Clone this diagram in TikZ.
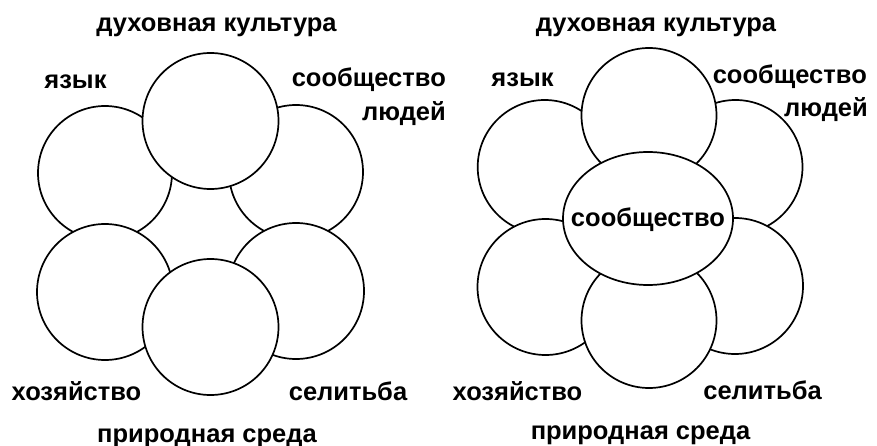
\documentclass[tikz,border=0pt]{standalone}
\usepackage{fontspec}
\setmainfont{Liberation Sans}
\usetikzlibrary{shapes.geometric}
\begin{document}
\begin{tikzpicture}[x=1pt,y=-1pt,
  ring/.style={circle,draw,fill=white,line width=1.7pt,inner sep=0pt,minimum size=#1},
  lbl/.style={anchor=base,inner sep=0pt,font=\fontsize{25.5}{30}\selectfont\bfseries}]
\useasboundingbox (0,0) rectangle (877,446);
% ---------- left diagram ----------
\node[ring=134pt] (lul) at (105,173) {};
\node[ring=134pt] (lur) at (296,172) {};
\node[ring=136pt] (lll) at (105,292) {};
\node[ring=136pt] (llr) at (296,291) {};
\node[ring=136pt] (ltop) at (210.5,121) {};
\node[ring=136pt] (lbot) at (210.5,327) {};
\node[lbl] (lt1) at (216.5,32) {духовная культура};
\node[lbl] (lt2) at (75.5,88.5) {язык};
\node[lbl,anchor=base east] (lt3) at (446,86.5) {сообщество};
\node[lbl,anchor=base east] (lt4) at (446,121) {людей};
\node[lbl] (lt5) at (76.5,400) {хозяйство};
\node[lbl] (lt6) at (348,400) {селитьба};
\node[lbl] (lt7) at (207,442) {природная среда};
% ---------- right diagram ----------
\node[ring=134pt] (rul) at (544.7,167) {};
\node[ring=134pt] (rur) at (735.5,167) {};
\node[ring=136pt] (rll) at (545.5,287) {};
\node[ring=136pt] (rlr) at (735,286) {};
\node[ring=135pt] (rtop) at (649,115.5) {};
\node[ring=135pt] (rbot) at (649,320.5) {};
\node[ellipse,draw,fill=white,line width=1.7pt,inner sep=0pt,minimum width=170pt,minimum height=133pt] (rmid) at (648,218.5) {};
\node[lbl] (rt0) at (648,227) {сообщество};
\node[lbl] (rt1) at (656,32) {духовная культура};
\node[lbl] (rt2) at (522.5,87) {язык};
\node[lbl,anchor=base east] (rt3) at (867,84) {сообщество};
\node[lbl,anchor=base east] (rt4) at (868,117) {людей};
\node[lbl] (rt5) at (517.5,400) {хозяйство};
\node[lbl] (rt6) at (762.5,399) {селитьба};
\node[lbl] (rt7) at (640.5,439) {природная среда};
\end{tikzpicture}
\end{document}
